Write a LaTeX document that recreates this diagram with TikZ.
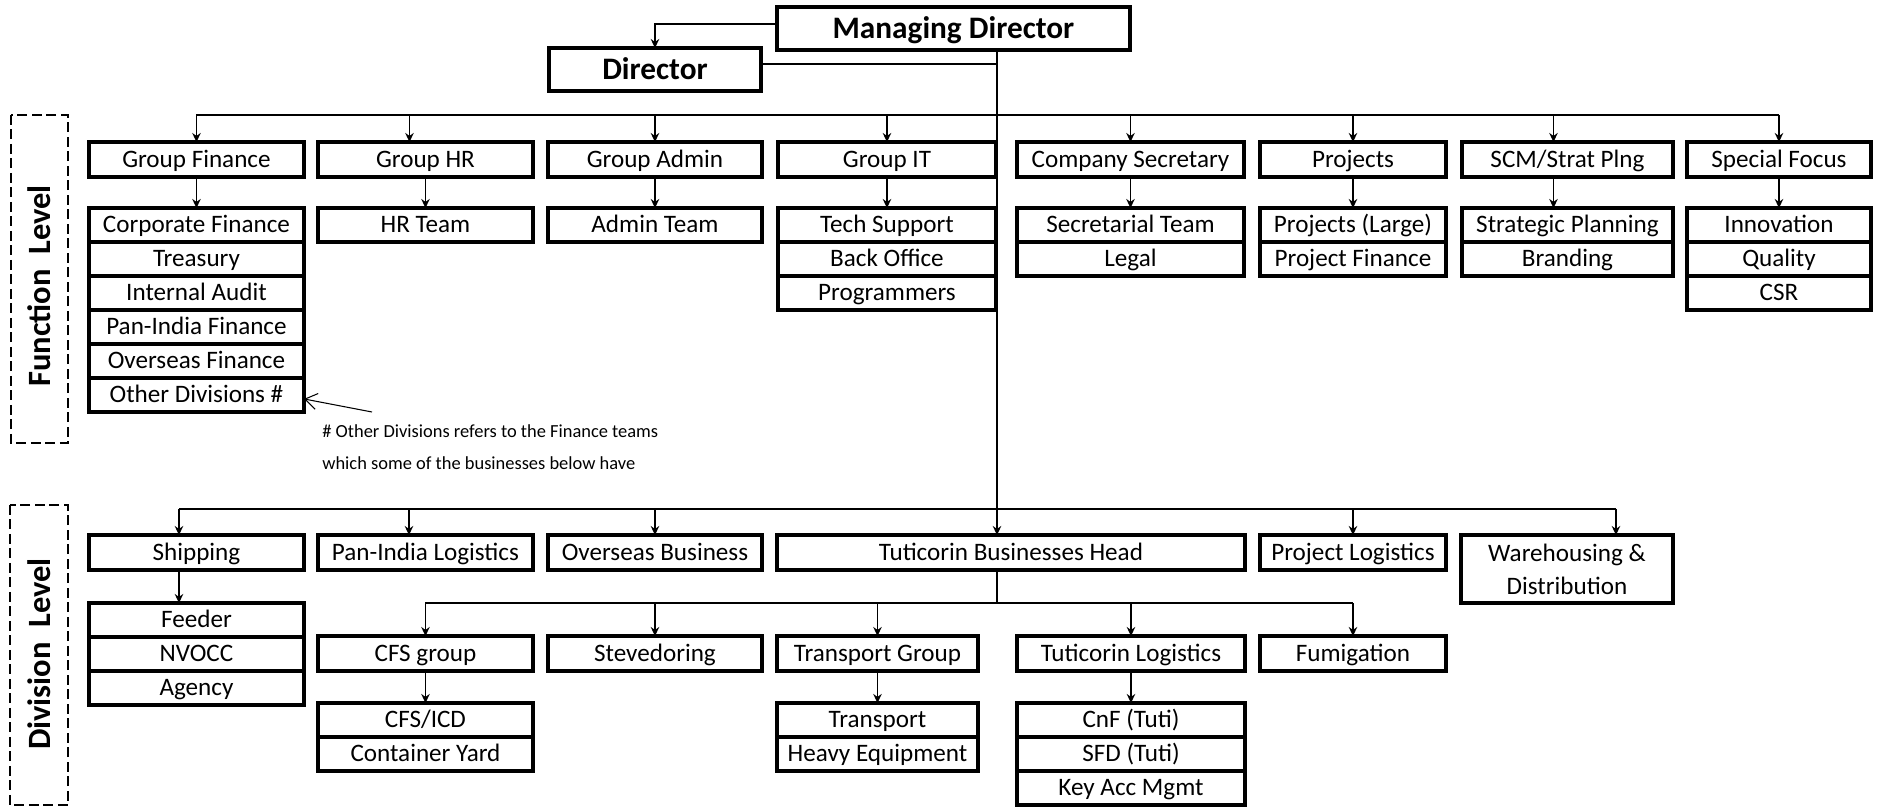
\documentclass[tikz,border=0pt]{standalone}
\usepackage{fontspec}
\setmainfont{Carlito}
\usetikzlibrary{positioning,arrows.meta}

\tikzset{
  post/.style={draw, line width=2pt, inner sep=0pt, outer sep=0pt, anchor=north west,
    minimum width=#1, minimum height=0.7cm, text height=9.6pt, text depth=0.6pt,
    font=\fontsize{14.3}{17}\selectfont},
  team/.style={post=#1, minimum height=0.68cm},
  chief/.style={draw, line width=2.2pt, inner sep=0pt, outer sep=0pt, anchor=north west,
    minimum width=#1, minimum height=0.86cm, text height=12pt, text depth=0.6pt,
    font=\fontsize{17.8}{20}\selectfont\bfseries},
  link/.style={line width=1pt, -{Stealth[length=1.8mm,width=1.7mm]}},
  rail/.style={line width=1.3pt},
  band/.style={line width=1.5pt, dash pattern=on 0.2cm off 0.09cm},
  tag/.style={rotate=90, inner sep=0pt, font=\fontsize{18.5}{20}\selectfont\bfseries},
  note/.style={inner sep=0pt, anchor=west, font=\fontsize{10.5}{12}\selectfont},
  pointer/.style={line width=0.6pt, -{Straight Barb[length=2.4mm,width=3.2mm]}},
}

\begin{document}
\begin{tikzpicture}[x=0.02cm, y=-0.02cm]
\useasboundingbox (0,0) rectangle (1877,807);
% top
\node[chief=7.06cm] (md) at (777,7) {Managing Director};
\node[chief=4.24cm] (dir) at (549,48) {Director};
\coordinate (spine) at (997,50);
\coordinate (fbus) at (997,115);
\coordinate (dbus) at (997,509);
\coordinate (tbus) at (997,603);
\coordinate (dirout) at ([yshift=0.11cm]dir.east);
\draw[link] ([yshift=0.09cm]md.west) -| (dir.north);
\draw[rail] (dirout) -- (dirout -| spine);

% function level
\draw[band] (11,115) rectangle (68,443);
\node[tag] (ftag) at (39,286) {Function\ \ Level};
\node[post=4.3cm] (gfin) at (89,142) {Group Finance};
\node[post=4.3cm] (ghr) at (318,142) {Group HR};
\node[post=4.28cm] (gadmin) at (548,142) {Group Admin};
\node[post=4.36cm] (git) at (778,142) {Group IT};
\node[post=4.54cm] (csec) at (1017,142) {Company Secretary};
\node[post=3.72cm] (proj) at (1260,142) {Projects};
\node[post=4.22cm] (scm) at (1462,142) {SCM/Strat Plng};
\node[post=3.68cm] (sfocus) at (1687,142) {Special Focus};

\node[team=4.3cm, below=0.62cm of gfin] (cfin) {Corporate Finance};
\node[team=4.3cm, below=0pt of cfin] (treas) {Treasury};
\node[team=4.3cm, below=0pt of treas] (iaudit) {Internal Audit};
\node[team=4.3cm, below=0pt of iaudit] (pifin) {Pan-India Finance};
\node[team=4.3cm, below=0pt of pifin] (osfin) {Overseas Finance};
\node[team=4.3cm, below=0pt of osfin] (othdiv) {Other Divisions \#};
\node[team=4.3cm, below=0.62cm of ghr] (hrteam) {HR Team};
\node[team=4.28cm, below=0.62cm of gadmin] (adteam) {Admin Team};
\node[team=4.36cm, below=0.62cm of git] (techsup) {Tech Support};
\node[team=4.36cm, below=0pt of techsup] (backoff) {Back Office};
\node[team=4.36cm, below=0pt of backoff] (progr) {Programmers};
\node[team=4.54cm, below=0.62cm of csec] (secteam) {Secretarial Team};
\node[team=4.54cm, below=0pt of secteam] (legal) {Legal};
\node[team=3.72cm, below=0.62cm of proj] (projlarge) {Projects (Large)};
\node[team=3.72cm, below=0pt of projlarge] (projfin) {Project Finance};
\node[team=4.22cm, below=0.62cm of scm] (stratpl) {Strategic Planning};
\node[team=4.22cm, below=0pt of stratpl] (brand) {Branding};
\node[team=3.68cm, below=0.62cm of sfocus] (innov) {Innovation};
\node[team=3.68cm, below=0pt of innov] (qual) {Quality};
\node[team=3.68cm, below=0pt of qual] (csr) {CSR};

\coordinate (hrin) at ([xshift=-0.32cm]ghr.north);
\coordinate (scmin) at ([xshift=-0.28cm]scm.north);
\draw[rail] (fbus -| gfin.north) -- (fbus -| sfocus.north);
\draw[link] (fbus -| gfin.north) -- (gfin.north);
\draw[link] (fbus -| hrin) -- (hrin);
\draw[link] (fbus -| gadmin.north) -- (gadmin.north);
\draw[link] (fbus -| git.north) -- (git.north);
\draw[link] (fbus -| csec.north) -- (csec.north);
\draw[link] (fbus -| proj.north) -- (proj.north);
\draw[link] (fbus -| scmin) -- (scmin);
\draw[link] (fbus -| sfocus.north) -- (sfocus.north);
\draw[link] (gfin) -- (cfin);
\draw[link] (ghr) -- (hrteam);
\draw[link] (gadmin) -- (adteam);
\draw[link] (git) -- (techsup);
\draw[link] (csec) -- (secteam);
\draw[link] (proj) -- (projlarge);
\draw[link] ([xshift=-0.28cm]scm.south) -- ([xshift=-0.28cm]stratpl.north);
\draw[link] (sfocus) -- (innov);

% footnote
\coordinate (notetail) at (372,412);
\draw[pointer] (notetail) -- ([yshift=-0.08cm]othdiv.east);
\node[note] (note1) at (322,431) {\# Other Divisions refers to the Finance teams};
\node[note] (note2) at (322,463) {which some of the businesses below have};

% division level
\draw[band] (10,505) rectangle (68,805);
\node[tag] (dtag) at (39,654) {Division\ \ Level};
\node[post=4.3cm] (ship) at (89,535) {Shipping};
\node[post=4.3cm] (pil) at (318,535) {Pan-India Logistics};
\node[post=4.28cm] (osbus) at (548,535) {Overseas Business};
\node[post=9.36cm] (tbh) at (777,535) {Tuticorin Businesses Head};
\node[post=3.72cm] (projlog) at (1260,535) {Project Logistics};
\node[post=4.24cm, minimum height=1.36cm, text height={}, text depth={}, align=center,
  font=\fontsize{14.3}{18.7}\selectfont] (whd) at (1461,535) {Warehousing \&\\Distribution};

\node[team=4.3cm, below=0.66cm of ship] (feeder) {Feeder};
\node[team=4.3cm, below=0pt of feeder] (nvocc) {NVOCC};
\node[team=4.3cm, below=0pt of nvocc] (agency) {Agency};

\node[post=4.3cm] (cfsgrp) at (318,636) {CFS group};
\node[post=4.28cm] (stev) at (548,636) {Stevedoring};
\node[post=4.02cm] (trgrp) at (777,636) {Transport Group};
\node[post=4.56cm] (tutilog) at (1017,636) {Tuticorin Logistics};
\node[post=3.72cm] (fumig) at (1260,636) {Fumigation};

\node[team=4.3cm, below=0.64cm of cfsgrp] (cfsicd) {CFS/ICD};
\node[team=4.3cm, below=0pt of cfsicd] (cyard) {Container Yard};
\node[team=4.02cm, below=0.64cm of trgrp] (transp) {Transport};
\node[team=4.02cm, below=0pt of transp] (heavy) {Heavy Equipment};
\node[team=4.56cm, below=0.64cm of tutilog] (cnf) {CnF (Tuti)};
\node[team=4.56cm, below=0pt of cnf] (sfd) {SFD (Tuti)};
\node[team=4.56cm, below=0pt of sfd] (kam) {Key Acc Mgmt};

\coordinate (shipin) at ([xshift=-0.35cm]ship.north);
\coordinate (pilin) at ([xshift=-0.33cm]pil.north);
\coordinate (whdin) at ([xshift=0.98cm]whd.north);
\draw[link] (spine) -- (spine |- tbh.north);
\draw[rail] (dbus -| shipin) -- (dbus -| whdin);
\draw[link] (dbus -| shipin) -- (shipin);
\draw[link] (dbus -| pilin) -- (pilin);
\draw[link] (dbus -| osbus.north) -- (osbus.north);
\draw[link] (dbus -| projlog.north) -- (projlog.north);
\draw[link] (dbus -| whdin) -- (whdin);
\draw[link] ([xshift=-0.35cm]ship.south) -- ([xshift=-0.35cm]feeder.north);

\draw[rail] (spine |- tbh.south) -- (tbus);
\draw[line width=0.9pt] (tbus -| cfsgrp.north) -- (tbus -| fumig.north);
\draw[link] (tbus -| cfsgrp.north) -- (cfsgrp.north);
\draw[link] (tbus -| stev.north) -- (stev.north);
\draw[link] (tbus -| trgrp.north) -- (trgrp.north);
\draw[link] (tbus -| tutilog.north) -- (tutilog.north);
\draw[link] (tbus -| fumig.north) -- (fumig.north);
\draw[link] (cfsgrp) -- (cfsicd);
\draw[link] (trgrp) -- (transp);
\draw[link] (tutilog) -- (cnf);
\end{tikzpicture}
\end{document}
